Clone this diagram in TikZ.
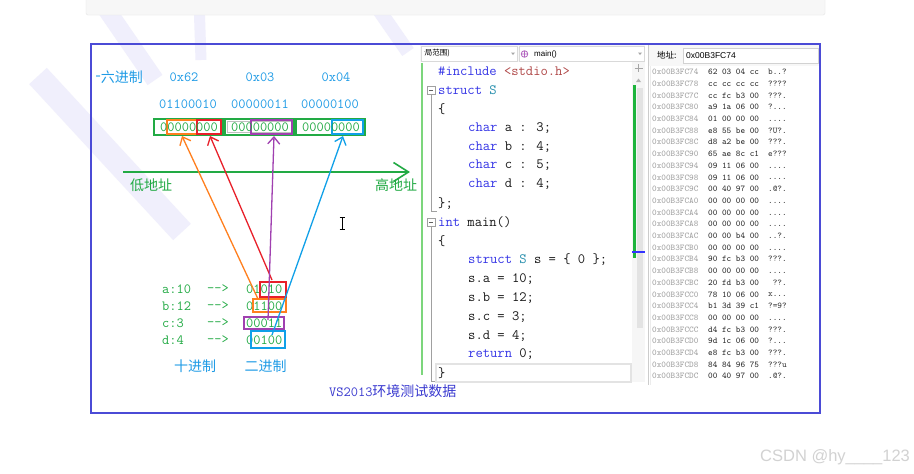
\documentclass[tikz,border=0pt]{standalone}
\usepackage{fontspec}
\newfontfamily\cjk{Noto Sans CJK SC}
\newfontfamily\uisans{Liberation Sans}
\usetikzlibrary{arrows.meta}
\definecolor{frameblue}{HTML}{4B4BD6}
\definecolor{capblue}{HTML}{3A3AD0}
\definecolor{hexblue}{HTML}{1E9BE6}
\definecolor{bgreen}{HTML}{22AA44}
\definecolor{aorange}{HTML}{FF7F1E}
\definecolor{ared}{HTML}{E8202A}
\definecolor{apurple}{HTML}{A040B0}
\definecolor{ablue}{HTML}{10A0E8}
\definecolor{kw}{HTML}{3535E6}
\definecolor{tp}{HTML}{2B91AF}
\definecolor{strc}{HTML}{B04848}
\definecolor{codetxt}{HTML}{1A1A1A}
\definecolor{wm}{HTML}{F0EFFC}
\definecolor{fold}{HTML}{A0A0A0}
\definecolor{lgreen}{HTML}{7CD67C}
\definecolor{sgreen}{HTML}{1DB43C}
\begin{document}
\begin{tikzpicture}[x=1pt,y=-1pt,
  lbl/.style={inner sep=0pt, font=\fontsize{14}{14}\selectfont\ttfamily},
  hexlbl/.style={lbl, text=hexblue},
  grnlbl/.style={lbl, text=bgreen},
  cjklbl/.style={inner sep=0pt, font=\fontsize{14}{14}\selectfont\cjk},
  bytebox/.style={draw=bgreen, line width=1.6pt, inner sep=0pt},
  subbox/.style={line width=1.3pt, inner sep=0pt},
  ptr/.style={line width=1.3pt, -{Straight Barb[length=7pt,width=12pt]}},
  codeln/.style={inner sep=0pt, anchor=west, text=codetxt, font=\fontsize{14.2}{14}\selectfont\ttfamily},
  memcol/.style={inner sep=0pt, anchor=north west, align=left, font=\fontsize{8.8}{11.7}\selectfont\ttfamily},
  wmark/.style={draw=wm, line cap=butt},
]
\useasboundingbox (0,0) rectangle (914,474);
\fill[white] (0,0) rectangle (914,474);

% faint watermark strokes
\draw[wmark, line width=24] (38,76) -- (182,232);
\draw[wmark, line width=18] (100,0) -- (155,80);
\draw[wmark, line width=11] (199,0) -- (201,60);
\draw[wmark, line width=14] (372,0) -- (408,52);

% top grey bar (cut off)
\draw[draw=gray!20, fill=gray!6, rounded corners=2] (86,-4) rectangle (825,15);

% outer frame
\draw[frameblue, line width=2] (91,43.5) rectangle (820,412.5);

% ---------------- left diagram ----------------
\begin{scope}
\clip (96,60) rectangle (200,95);
\node[cjklbl, text=hexblue, anchor=east] (hexname) at (143,77) {十六进制};
\end{scope}
\node[hexlbl] (h62) at (184,77) {0x62};
\node[hexlbl] (h03) at (260,77) {0x03};
\node[hexlbl] (h04) at (336,77) {0x04};
\node[hexlbl] (b62) at (188,104) {01100010};
\node[hexlbl] (b03) at (260,104) {00000011};
\node[hexlbl] (b04) at (330,104) {00000100};

% byte boxes
\node[bytebox, minimum width=69pt, minimum height=16pt] (B1) at (188.5,127) {};
\node[bytebox, minimum width=69pt, minimum height=16pt] (B2) at (259.5,127) {};
\node[draw=gray!50, line width=0.8pt, inner sep=0pt, minimum width=64pt, minimum height=11.5pt] (B2in) at (259.5,127) {};
\node[bytebox, minimum width=69pt, minimum height=16pt] (B3) at (330.5,127) {};
\node[subbox, draw=aorange, minimum width=30pt, minimum height=14pt] (O1) at (182,127) {};
\node[subbox, draw=ared, minimum width=24pt, minimum height=14pt] (R1) at (209,127) {};
\node[subbox, draw=apurple, minimum width=41pt, minimum height=14pt] (P1) at (271.5,127) {};
\node[subbox, draw=ablue, minimum width=31pt, minimum height=14pt] (L1) at (347.5,127) {};
\node[grnlbl] (t1) at (189,127) {00000000};
\node[grnlbl] (t2) at (260,127) {00000000};
\node[grnlbl] (t3) at (331,127) {00000000};

% address axis
\coordinate (axL) at (123,172);
\coordinate (axR) at (410,172);
\draw[bgreen, line width=1.6pt, -{Straight Barb[length=15pt,width=19pt]}] (axL) -- (axR);
\node[cjklbl, text=bgreen] (lowaddr) at (151,185) {低地址};
\node[cjklbl, text=bgreen] (highaddr) at (396,185) {高地址};

% decimal -> binary rows
\node[grnlbl, anchor=west] (va) at (162,289) {a:10};
\node[grnlbl, anchor=west] (vb) at (162,306) {b:12};
\node[grnlbl, anchor=west] (vc) at (162,323) {c:3};
\node[grnlbl, anchor=west] (vd) at (162,340) {d:4};
\node[grnlbl, anchor=west] (ga) at (207,289) {-\kern0pt->};
\node[grnlbl, anchor=west] (gb) at (207,306) {-\kern0pt->};
\node[grnlbl, anchor=west] (gc) at (207,323) {-\kern0pt->};
\node[grnlbl, anchor=west] (gd) at (207,340) {-\kern0pt->};
\node[grnlbl, anchor=west] (ba) at (246,289) {01010};
\node[grnlbl, anchor=west] (bb) at (246,306) {01100};
\node[grnlbl, anchor=west] (bc) at (246,323) {00011};
\node[grnlbl, anchor=west] (bd) at (246,340) {00100};
\node[subbox, draw=ared, minimum width=26pt, minimum height=15pt] (R2) at (273,289.5) {};
\node[subbox, draw=aorange, minimum width=33pt, minimum height=13pt] (O2) at (269.5,305.5) {};
\node[subbox, draw=apurple, minimum width=40pt, minimum height=12pt] (P2) at (264,323) {};
\node[subbox, draw=ablue, minimum width=34pt, minimum height=17pt] (L2) at (268,339.5) {};
\node[cjklbl, text=hexblue] (decname) at (195,366) {十进制};
\node[cjklbl, text=hexblue] (binname) at (265.5,366) {二进制};

% pointer arrows
\coordinate (oS) at (258,299);
\coordinate (oT) at (182,136);
\coordinate (rS) at (272,280);
\coordinate (rT) at (210,136);
\coordinate (pS) at (268,320);
\coordinate (pT) at (274,136);
\coordinate (lS) at (272,335);
\coordinate (lT) at (343,136);
\draw[ptr, aorange] (oS) -- (oT);
\draw[ptr, ared] (rS) -- (rT);
\draw[ptr, apurple] (pS) -- (pT);
\draw[ptr, ablue] (lS) -- (lT);

% text cursor
\draw[line width=0.9pt] (342,217) -- (342,229) (339.5,217) -- (344.5,217) (339.5,229) -- (344.5,229);

% ---------------- code panel ----------------
\fill[gray!6] (420,45) rectangle (645,62);
\draw[gray!30, fill=white] (421,46) rectangle (517,61);
\draw[gray!30, fill=white] (519,46) rectangle (644,61);
\begin{scope}
\clip (424,46) rectangle (512,61);
\node[inner sep=0pt, anchor=east, font=\fontsize{7.5}{8}\selectfont\cjk] (scopebox) at (450,53.5) {(全局范围)};
\end{scope}
\fill[gray!70] (511,52.5) -- (515,52.5) -- (513,55) -- cycle;
\fill[gray!70] (638,52.5) -- (642,52.5) -- (640,55) -- cycle;
\draw[apurple!80, line width=0.8pt] (524.5,54) circle (3.3) (521.5,54) -- (527.5,54) (524.5,51) -- (524.5,57);
\node[inner sep=0pt, anchor=west, font=\fontsize{8}{8}\selectfont\uisans] (fnbox) at (534,54) {main()};

\draw[lgreen, line width=1.2pt] (422,63) -- (422,375);
% fold markers
\draw[fold, fill=white, line width=0.7pt] (427,86) rectangle (435,94);
\draw[fold!60!black, line width=0.8pt] (428.8,90) -- (433.2,90);
\draw[fold, line width=0.8pt] (431,94) -- (431,211) -- (437,211);
\draw[fold, fill=white, line width=0.7pt] (427,218) rectangle (435,226);
\draw[fold!60!black, line width=0.8pt] (428.8,222) -- (433.2,222);
\draw[fold, line width=0.8pt] (431,226) -- (431,381) -- (437,381);
% current line box
\draw[gray!22, line width=1.2pt] (436,364) rectangle (631,382);

\node[codeln] (c0) at (438,71) {\textcolor{kw}{\#include} \textcolor{strc}{<stdio.h>}};
\node[codeln] (c1) at (438,89.9) {\textcolor{kw}{struct} \textcolor{tp}{S}};
\node[codeln] (c2) at (438,108.8) {\{};
\node[codeln] (c3) at (468,127.7) {\textcolor{kw}{char} a : 3;};
\node[codeln] (c4) at (468,146.6) {\textcolor{kw}{char} b : 4;};
\node[codeln] (c5) at (468,165.5) {\textcolor{kw}{char} c : 5;};
\node[codeln] (c6) at (468,184.4) {\textcolor{kw}{char} d : 4;};
\node[codeln] (c7) at (438,203.3) {\};};
\node[codeln] (c8) at (438,222.2) {\textcolor{kw}{int} main()};
\node[codeln] (c9) at (438,241.1) {\{};
\node[codeln] (c10) at (468,260) {\textcolor{kw}{struct} \textcolor{tp}{S} s = \{ 0 \};};
\node[codeln] (c11) at (468,278.9) {s.a = 10;};
\node[codeln] (c12) at (468,297.8) {s.b = 12;};
\node[codeln] (c13) at (468,316.7) {s.c = 3;};
\node[codeln] (c14) at (468,335.6) {s.d = 4;};
\node[codeln] (c15) at (468,354.5) {\textcolor{kw}{return} 0;};
\node[codeln] (c16) at (438,373.4) {\}};

% scrollbar
\fill[gray!7] (632,62) rectangle (645,382);
\draw[gray!70, line width=1pt] (634.5,68) -- (642.5,68) (638.5,64) -- (638.5,72);
\fill[gray!60] (636,82) -- (641,82) -- (638.5,78.5) -- cycle;
\fill[gray!22] (637,88) rectangle (643,328);
\fill[sgreen] (633,85) rectangle (636,258);
\draw[blue!80, line width=1.2pt] (632,252) -- (645,252);

% ---------------- memory panel ----------------
\fill[gray!6] (648,45) rectangle (819,66);
\draw[gray!35, fill=white] (683,48) rectangle (818,63.5);
\draw[gray!40] (648,45) -- (648,385);
\draw[gray!15, line width=1.5pt] (650.5,66) -- (650.5,385);
\node[inner sep=0pt, anchor=west, font=\fontsize{8.5}{9}\selectfont\cjk] (addrlbl) at (657,55.5) {地址:};
\node[inner sep=0pt, anchor=west, font=\fontsize{8.5}{9}\selectfont\uisans] (addrval) at (686,55.5) {0x00B3FC74};

\node[memcol, text=gray!75] (memA) at (652,69) {0x00B3FC74\\0x00B3FC78\\0x00B3FC7C\\0x00B3FC80\\0x00B3FC84\\0x00B3FC88\\0x00B3FC8C\\0x00B3FC90\\0x00B3FC94\\0x00B3FC98\\0x00B3FC9C\\0x00B3FCA0\\0x00B3FCA4\\0x00B3FCA8\\0x00B3FCAC\\0x00B3FCB0\\0x00B3FCB4\\0x00B3FCB8\\0x00B3FCBC\\0x00B3FCC0\\0x00B3FCC4\\0x00B3FCC8\\0x00B3FCCC\\0x00B3FCD0\\0x00B3FCD4\\0x00B3FCD8\\0x00B3FCDC};
\node[memcol, text=black!85] (memB) at (708,69) {62 03 04 cc\\cc cc cc cc\\cc fc b3 00\\a9 1a 06 00\\01 00 00 00\\e8 55 be 00\\d8 a2 be 00\\65 ae 8c c1\\09 11 06 00\\09 11 06 00\\00 40 97 00\\00 00 00 00\\00 00 00 00\\00 00 00 00\\00 00 b4 00\\00 00 00 00\\90 fc b3 00\\00 00 00 00\\20 fd b3 00\\78 10 06 00\\b1 3d 39 c1\\00 00 00 00\\d4 fc b3 00\\9d 1c 06 00\\e8 fc b3 00\\84 84 96 75\\00 40 97 00};
\node[memcol, text=black!80] (memC) at (768,69) {b..?\\????\\???.\\?...\\....\\?U?.\\???.\\e???\\....\\....\\.@?.\\....\\....\\....\\..?.\\....\\???.\\....\\~??.\\x...\\?=9?\\....\\???.\\?...\\???.\\???u\\.@?.};

% caption
\node[inner sep=0pt, anchor=west, text=capblue, font=\fontsize{14}{14}\selectfont] (caption) at (329,391) {\ttfamily VS2013\cjk 环境测试数据};

% CSDN watermark
\node[inner sep=0pt, anchor=west, text=gray!35, font=\fontsize{16.5}{17}\selectfont\uisans] (csdn) at (760,457) {CSDN @hy\_\_\_\_123};
\end{tikzpicture}
\end{document}
